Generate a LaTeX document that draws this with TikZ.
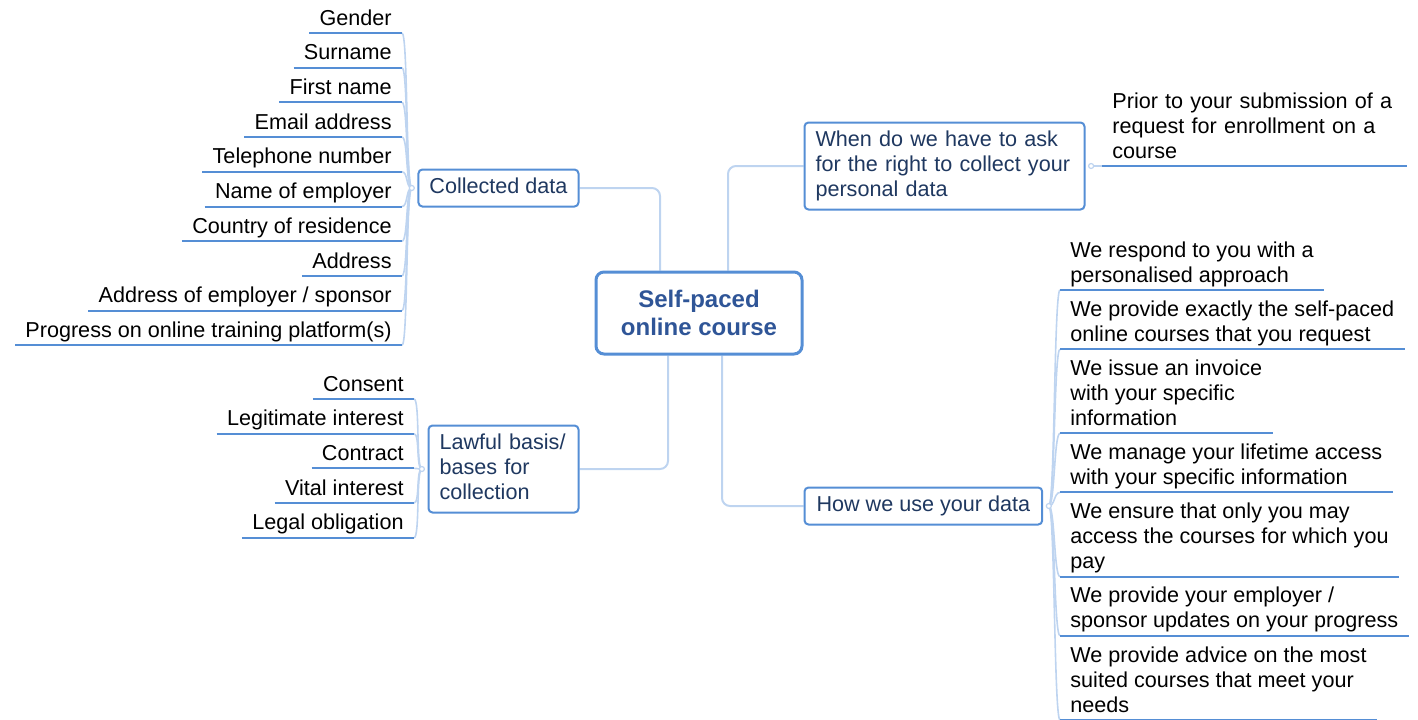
\documentclass[tikz,border=0pt]{standalone}
\usepackage{fontspec}
\setmainfont{Liberation Sans}
\usetikzlibrary{shapes, arrows, positioning, backgrounds}
\definecolor{boxblue}{RGB}{85,142,213}
\definecolor{linkblue}{RGB}{190,212,240}
\definecolor{navy}{RGB}{31,56,96}
\definecolor{hubtext}{RGB}{47,85,151}
\begin{document}
\begin{tikzpicture}[x=0.5pt, y=-0.5pt]
		% Define elements
		\tikzstyle{hub} = [rectangle, draw=boxblue, line width=1.5pt, rounded corners=4pt, fill=white,
		    minimum width=103pt, minimum height=41pt, align=center, text=hubtext,
		    font=\bfseries\fontsize{12}{14}\selectfont]
		\tikzstyle{block} = [rectangle, draw=boxblue, line width=1pt, rounded corners=2pt, fill=white,
		    inner xsep=5.5pt, inner ysep=3pt, align=left, text=navy,
		    font=\fontsize{10.8}{12.5}\selectfont, execute at begin node=\strut, execute at end node=\strut]
		\tikzstyle{uline} = [draw=boxblue, line width=1pt]
		\tikzstyle{leaf} = [inner xsep=5pt, inner ysep=0pt, align=left,
		    font=\fontsize{10.8}{12.5}\selectfont, execute at begin node=\strut, execute at end node=\strut,
		    append after command={(\tikzlastnode.south west) edge[uline] (\tikzlastnode.south east)}]
		\tikzstyle{knob} = [circle, draw=linkblue, fill=white, line width=0.6pt, inner sep=0pt, minimum size=2.5pt]
		\tikzstyle{line} = [draw=linkblue, line width=1pt, rounded corners=4pt]
		\tikzstyle{twigL} = [draw=linkblue, line width=0.8pt, to path={.. controls +(-3pt,0) and +(3pt,0) .. (\tikztotarget)}]
		\tikzstyle{twigR} = [draw=linkblue, line width=0.8pt, to path={.. controls +(3pt,0) and +(-3pt,0) .. (\tikztotarget)}]
		\useasboundingbox (0,0) rectangle (1418,719);

		%% Center
		\node [name = course, hub] at (699,313) {Self-paced\\online course};

		%% Collected data
		\node [name = collected, block, above left=31.5pt and 7.5pt of course] {Collected data};
		\node [name = cknob, knob, left=1.25pt of collected] {};
		\node [name = gender, leaf, anchor=south east] at (402,33) {Gender};
		\node [name = surname, leaf, below=4.45pt of gender.south east, anchor=north east] {Surname};
		\node [name = first, leaf, below=4.45pt of surname.south east, anchor=north east] {First name};
		\node [name = email, leaf, below=4.45pt of first.south east, anchor=north east] {Email address};
		\node [name = phone, leaf, below=4.45pt of email.south east, anchor=north east] {Telephone number};
		\node [name = employer, leaf, below=4.45pt of phone.south east, anchor=north east] {Name of employer};
		\node [name = country, leaf, below=4.45pt of employer.south east, anchor=north east] {Country of residence};
		\node [name = address, leaf, below=4.45pt of country.south east, anchor=north east] {Address};
		\node [name = empaddr, leaf, below=4.45pt of address.south east, anchor=north east] {Address of employer / sponsor};
		\node [name = progress, leaf, below=4.45pt of empaddr.south east, anchor=north east] {Progress on online training platform(s)};

		%% Lawful basis
		\node [name = lawful, block, text width=64pt, below left=34.5pt and 7.5pt of course] {Lawful basis/\\bases for\\collection};
		\node [name = lknob, knob, left=1.25pt of lawful] {};
		\node [name = consent, leaf, anchor=south east] at (414,399) {Consent};
		\node [name = legit, leaf, below=4.45pt of consent.south east, anchor=north east] {Legitimate interest};
		\node [name = contract, leaf, below=4.45pt of legit.south east, anchor=north east] {Contract};
		\node [name = vital, leaf, below=4.45pt of contract.south east, anchor=north east] {Vital interest};
		\node [name = legal, leaf, below=4.45pt of vital.south east, anchor=north east] {Legal obligation};

		%% When to ask
		\node [name = when, block, text width=129pt, above right=30pt and 0pt of course]
		    {When do we have to ask\\for the right to collect your\\personal data};
		\node [name = wknob, knob, right=1.25pt of when] {};
		\node [name = prior, leaf, anchor=south west, inner xsep=5pt, text width=142pt] at (1102,166)
		    {Prior to your submission of a\\request for enrollment on a\\course};

		%% How we use it
		\node [name = how, block, inner xsep=6pt, below right=65.5pt and 0pt of course] {How we use your data};
		\node [name = hknob, knob, right=1.25pt of how] {};
		\node [name = respond, leaf, anchor=south west] at (1060,290) {We respond to you with a\\personalised approach};
		\node [name = provide, leaf, below=5.1pt of respond.south west, anchor=north west]
		    {We provide exactly the self-paced\\online courses that you request};
		\node [name = invoice, leaf, below=5.1pt of provide.south west, anchor=north west]
		    {We issue an invoice\\with your specific\\information};
		\node [name = lifetime, leaf, below=5.1pt of invoice.south west, anchor=north west]
		    {We manage your lifetime access\\with your specific information};
		\node [name = ensure, leaf, below=5.1pt of lifetime.south west, anchor=north west]
		    {We ensure that only you may\\access the courses for which you\\pay};
		\node [name = updates, leaf, below=5.1pt of ensure.south west, anchor=north west]
		    {We provide your employer /\\sponsor updates on your progress};
		\node [name = advice, leaf, below=5.1pt of updates.south west, anchor=north west]
		    {We provide advice on the most\\suited courses that meet your\\needs};

	% arrows
	\begin{scope}[on background layer]
		\path [line] (collected.east) -| ([xshift=-19.5pt]course.north);
		\path [line] ([xshift=-15.5pt]course.south) |- (lawful.east);
		\path [line] ([xshift=14.5pt]course.north) |- (when.west);
		\path [line] ([xshift=11.5pt]course.south) |- (how.west);
		\path (cknob.center) edge[twigL] (gender.south east) edge[twigL] (surname.south east)
		    edge[twigL] (first.south east) edge[twigL] (email.south east) edge[twigL] (phone.south east)
		    edge[twigL] (employer.south east) edge[twigL] (country.south east) edge[twigL] (address.south east)
		    edge[twigL] (empaddr.south east) edge[twigL] (progress.south east);
		\path (lknob.center) edge[twigL] (consent.south east) edge[twigL] (legit.south east)
		    edge[twigL] (contract.south east) edge[twigL] (vital.south east) edge[twigL] (legal.south east);
		\path (wknob.center) edge[twigR] (prior.south west);
		\path (hknob.center) edge[twigR] (respond.south west) edge[twigR] (provide.south west)
		    edge[twigR] (invoice.south west) edge[twigR] (lifetime.south west) edge[twigR] (ensure.south west)
		    edge[twigR] (updates.south west) edge[twigR] (advice.south west);
	\end{scope}
\end{tikzpicture}
\end{document}
